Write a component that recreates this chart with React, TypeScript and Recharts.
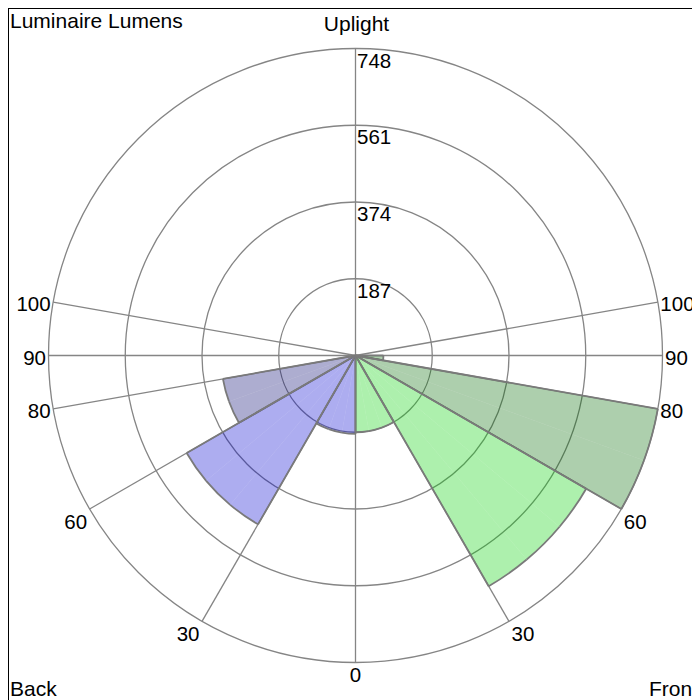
import React from "react"
import {
  RadialBarChart, RadialBar, PolarGrid, PolarAngleAxis, PolarRadiusAxis, Sector,
} from "recharts"

// zones, degrees from nadir (0 = straight down, 180 = straight up)
const zoneStart = [0, 30, 60, 80, 90, 100]
const zoneEnd = [30, 60, 80, 90, 100, 180]
const frontLumens = [187, 649, 748, 68, 0, 0]
const backLumens = [191, 475, 328, 0, 0, 0]
const frontColors = ["#00d000", "#00d000", "#006a00", "#006a00", "#006a00", "#006a00"]
const backColors = ["#0000d0", "#0000d0", "#00006c", "#00006c", "#00006c", "#00006c"]

const radiusTicks = [187, 374, 561, 748]

const FONT = "'Liberation Sans', Arial, sans-serif"
const GRID = "#858585"
const EDGE = "#7a7a7a"
const STEP = 10
const RAD = Math.PI / 180

type Bin = { key: string; lumens: number; fill: string; edge: number; edgeStart: boolean; edgeEnd: boolean }

const zoneOf = (lo: number) => zoneStart.findIndex((s, i) => lo >= s && lo < zoneEnd[i])

// the chart goes round from the top: back side 180 -> 0, then front side 0 -> 180
const bins: Bin[] = []
for (let hi = 180; hi > 0; hi -= STEP) {
  const z = zoneOf(hi - STEP)
  bins.push({
    key: `back ${hi - STEP}-${hi}`, lumens: backLumens[z], fill: backColors[z], edge: hi,
    edgeStart: hi === zoneEnd[z], edgeEnd: hi - STEP === zoneStart[z],
  })
}
for (let lo = 0; lo < 180; lo += STEP) {
  const z = zoneOf(lo)
  bins.push({
    key: `front ${lo}-${lo + STEP}`, lumens: frontLumens[z], fill: frontColors[z], edge: lo,
    edgeStart: lo === zoneStart[z], edgeEnd: lo + STEP === zoneEnd[z],
  })
}

// grid spokes and angle labels sit on the zone boundaries
const boundaryKeys = bins.filter(b => b.edgeStart).map(b => b.key)
const edgeLabel = (key: string) => {
  const b = bins.find(d => d.key === key)
  return !b || b.edge === 180 ? "" : String(b.edge)
}

function ZoneSector(props: any) {
  const { cx, cy, outerRadius, startAngle, endAngle, payload } = props
  if (!payload || payload.lumens <= 0) return null
  const pt = (r: number, a: number) => [cx + r * Math.cos(-a * RAD), cy + r * Math.sin(-a * RAD)]
  const [x1, y1] = pt(outerRadius, startAngle)
  const [x2, y2] = pt(outerRadius, endAngle)
  const sweep = endAngle > startAngle ? 0 : 1
  return (
    <g>
      <Sector cx={cx} cy={cy} innerRadius={0} outerRadius={outerRadius}
        startAngle={startAngle} endAngle={endAngle}
        fill={payload.fill} fillOpacity={0.32} stroke="none" />
      <path d={`M${x1},${y1}A${outerRadius},${outerRadius} 0 0 ${sweep} ${x2},${y2}`}
        fill="none" stroke={EDGE} strokeWidth={1.8} />
      {payload.edgeStart && <line x1={cx} y1={cy} x2={x1} y2={y1} stroke={EDGE} strokeWidth={1.8} />}
      {payload.edgeEnd && <line x1={cx} y1={cy} x2={x2} y2={y2} stroke={EDGE} strokeWidth={1.8} />}
    </g>
  )
}

function AngleTick(props: any) {
  const { x, y, cx, cy, radius, payload } = props
  const label = edgeLabel(payload.value)
  if (!label) return null
  const a = payload.coordinate
  const ux = Math.cos(-a * RAD)
  const uy = Math.sin(-a * RAD)
  const px = cx != null && radius != null ? cx + radius * ux : x - 8 * ux
  const py = cy != null && radius != null ? cy + radius * uy : y - 8 * uy
  const anchor = Math.abs(ux) < 0.1 ? "middle" : ux > 0 ? "start" : "end"
  const dx = Math.abs(ux) < 0.1 ? 0 : ux > 0 ? 2.5 : -2.5
  const dy = uy > 0.45 ? 19.5 : 9
  return (
    <text x={px + dx} y={py + dy} textAnchor={anchor} fontSize={20.5} fontFamily={FONT} fill="#000">
      {label}
    </text>
  )
}

function RadiusTick(props: any) {
  const { x, y, payload } = props
  return (
    <text x={x + 1.5} y={y + 19} textAnchor="start" fontSize={20.5} fontFamily={FONT} fill="#000">
      {payload.value}
    </text>
  )
}

export default function App() {
  return (
    <div style={{ position: "relative", width: 693, height: 693, border: "1px solid #000" }}>
      <RadialBarChart width={693} height={693} data={bins} layout="centric"
        cx="50%" cy="50%" innerRadius={0} outerRadius={307}
        startAngle={100} endAngle={460} barCategoryGap={0} barGap={0}
        margin={{ top: 0, right: 0, bottom: 0, left: 0 }}>
        <PolarGrid gridType="circle" angleAxisId="edges" stroke={GRID} strokeWidth={1.3} />
        <PolarAngleAxis angleAxisId="bins" type="category" dataKey="key"
          tick={false} tickLine={false} axisLine={false} />
        <PolarAngleAxis angleAxisId="edges" type="category" dataKey="key" ticks={boundaryKeys}
          tickSize={0} tickLine={false} axisLine={false} tick={AngleTick} />
        <PolarRadiusAxis type="number" domain={[0, 748]} ticks={radiusTicks} angle={90}
          axisLine={false} tickLine={false} tick={RadiusTick} />
        <RadialBar angleAxisId="bins" dataKey="lumens" shape={ZoneSector} isAnimationActive={false} />
      </RadialBarChart>
      <svg width={693} height={693} style={{ position: "absolute", left: 0, top: 0, pointerEvents: "none" }}
        fontFamily={FONT} fontSize={21} fill="#000">
        <text x={1} y={18.5}>Luminaire Lumens</text>
        <text x={347.5} y={22} textAnchor="middle">Uplight</text>
        <text x={1} y={687}>Back</text>
        <text x={689} y={687} textAnchor="end">Front</text>
      </svg>
    </div>
  )
}
